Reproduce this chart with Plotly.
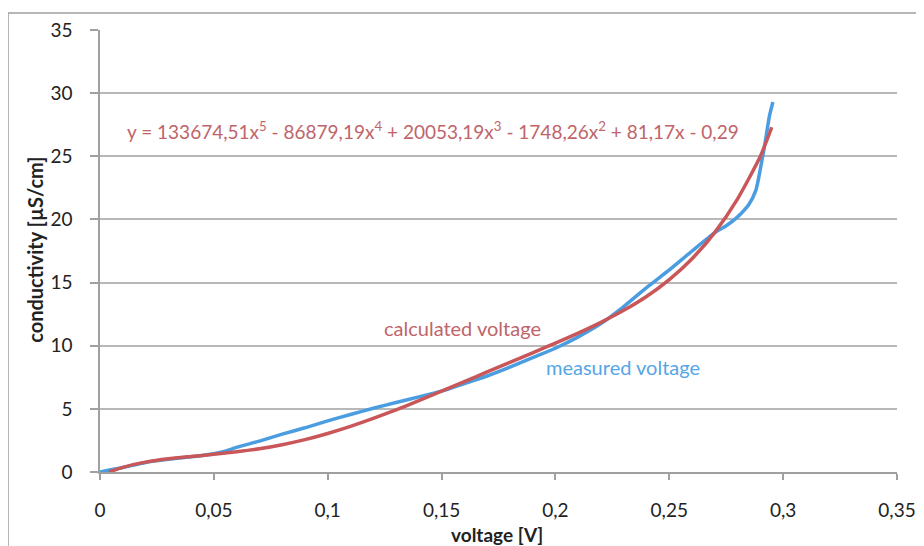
import plotly.graph_objects as go

# measured voltage (blue)
meas_x = [0, 0.01, 0.02, 0.03, 0.04, 0.05, 0.055, 0.06, 0.07, 0.08, 0.09, 0.10, 0.11, 0.12,
          0.13, 0.14, 0.15, 0.16, 0.17, 0.18, 0.19, 0.20, 0.21, 0.22, 0.23, 0.24, 0.25,
          0.26, 0.27, 0.275, 0.28, 0.285, 0.288, 0.29, 0.292, 0.294, 0.2955]
meas_y = [0, 0.35, 0.75, 1.0, 1.2, 1.45, 1.65, 1.95, 2.45, 3.0, 3.5, 4.05, 4.55, 5.05,
          5.5, 5.95, 6.4, 7.0, 7.6, 8.3, 9.05, 9.8, 10.7, 11.75, 13.1, 14.6, 16.0,
          17.5, 18.95, 19.5, 20.2, 21.2, 22.3, 24.0, 26.0, 28.2, 29.3]

# calculated voltage (red trendline)
calc_x = [0.004, 0.01, 0.02, 0.03, 0.04, 0.05, 0.06, 0.07, 0.08, 0.09, 0.10, 0.11, 0.12,
          0.13, 0.14, 0.15, 0.16, 0.17, 0.18, 0.19, 0.20, 0.21, 0.22, 0.23, 0.24, 0.25,
          0.26, 0.27, 0.28, 0.29, 0.295]
calc_y = [0.0, 0.37, 0.78, 1.05, 1.23, 1.40, 1.60, 1.84, 2.16, 2.56, 3.05, 3.61, 4.24,
          4.92, 5.65, 6.40, 7.16, 7.92, 8.68, 9.44, 10.21, 11.0, 11.85, 12.80, 13.90, 15.24,
          16.89, 18.98, 21.63, 25.0, 27.3]

x_ticks = [0, 0.05, 0.1, 0.15, 0.2, 0.25, 0.3, 0.35]
x_tick_text = ["0", "0,05", "0,1", "0,15", "0,2", "0,25", "0,3", "0,35"]
y_ticks = [0, 5, 10, 15, 20, 25, 30, 35]
y_tick_text = ["0", "5", "10", "15", "20", "25", "30", "35"]

equation = "y = 133674,51x<sup>5</sup> - 86879,19x<sup>4</sup> + 20053,19x<sup>3</sup> - 1748,26x<sup>2</sup> + 81,17x - 0,29"

BLUE = "#4A9DE0"
RED = "#C9575A"
FONT = "Lato"

fig = go.Figure()
fig.add_trace(go.Scatter(x=meas_x, y=meas_y, mode="lines", name="measured voltage",
                         line=dict(color=BLUE, width=3.5, shape="spline", smoothing=0.6)))
fig.add_trace(go.Scatter(x=calc_x, y=calc_y, mode="lines", name="calculated voltage",
                         line=dict(color=RED, width=3.5, shape="spline", smoothing=0.6)))

# the page body has an 8px margin; work in page pixels and subtract it
OFF = 8
W, H = 924 - OFF, 546 - OFF
L, R, T, B = 100 - OFF, 27, 30 - OFF, 73.5
pw, ph = W - L - R, H - T - B

def px(x):
    return (x - OFF - L) / pw

def py(y):
    return (H - B - (y - OFF)) / ph

fig.update_layout(
    width=W, height=H,
    margin=dict(l=L, r=R, t=T, b=B, autoexpand=False),
    paper_bgcolor="white", plot_bgcolor="white",
    showlegend=False,
    font=dict(family=FONT, size=19, color="#222222"),
    xaxis=dict(range=[0, 0.35], tickvals=x_ticks, ticktext=x_tick_text,
               showgrid=False, zeroline=False, showline=True, linecolor="#a0a0a0", linewidth=1.5,
               ticks="outside", ticklen=6, tickcolor="#a0a0a0", tickwidth=1.5,
               ticklabelstandoff=14, tickfont=dict(size=19, family=FONT, color="#222222")),
    yaxis=dict(range=[0, 35], tickvals=y_ticks, ticktext=y_tick_text,
               showgrid=True, gridcolor="#b8b8b8", gridwidth=1.6,
               zeroline=False, showline=True, linecolor="#a0a0a0", linewidth=1.5,
               ticks="outside", ticklen=8, tickcolor="#a0a0a0", tickwidth=1.5,
               ticklabelstandoff=14, tickfont=dict(size=19, family=FONT, color="#222222")),
    shapes=[dict(type="rect", xref="paper", yref="paper",
                 x0=px(8), x1=px(960), y0=py(13), y1=py(600),
                 line=dict(color="#a0a0a0", width=1.5), fillcolor="rgba(0,0,0,0)", layer="below")],
    annotations=[
        dict(text=equation, xref="paper", yref="paper", x=px(125), y=py(131),
             xanchor="left", yanchor="middle", showarrow=False,
             font=dict(family=FONT, size=19, color="#C0646A")),
        dict(text="calculated voltage", xref="paper", yref="paper", x=px(462), y=py(328),
             xanchor="center", yanchor="middle", showarrow=False,
             font=dict(family=FONT, size=20, color="#C0646A")),
        dict(text="measured voltage", xref="paper", yref="paper", x=px(623), y=py(367),
             xanchor="center", yanchor="middle", showarrow=False,
             font=dict(family=FONT, size=20, color="#55A6E6")),
        dict(text="<b>conductivity [µS/cm]</b>", xref="paper", yref="paper", x=px(35), y=py(250),
             xanchor="center", yanchor="middle", textangle=-90, showarrow=False,
             font=dict(family=FONT, size=20, color="#222222")),
        dict(text="<b>voltage [V]</b>", xref="paper", yref="paper", x=px(497), y=py(535),
             xanchor="center", yanchor="middle", showarrow=False,
             font=dict(family=FONT, size=19, color="#222222")),
    ],
)

fig.write_html("out.html")
